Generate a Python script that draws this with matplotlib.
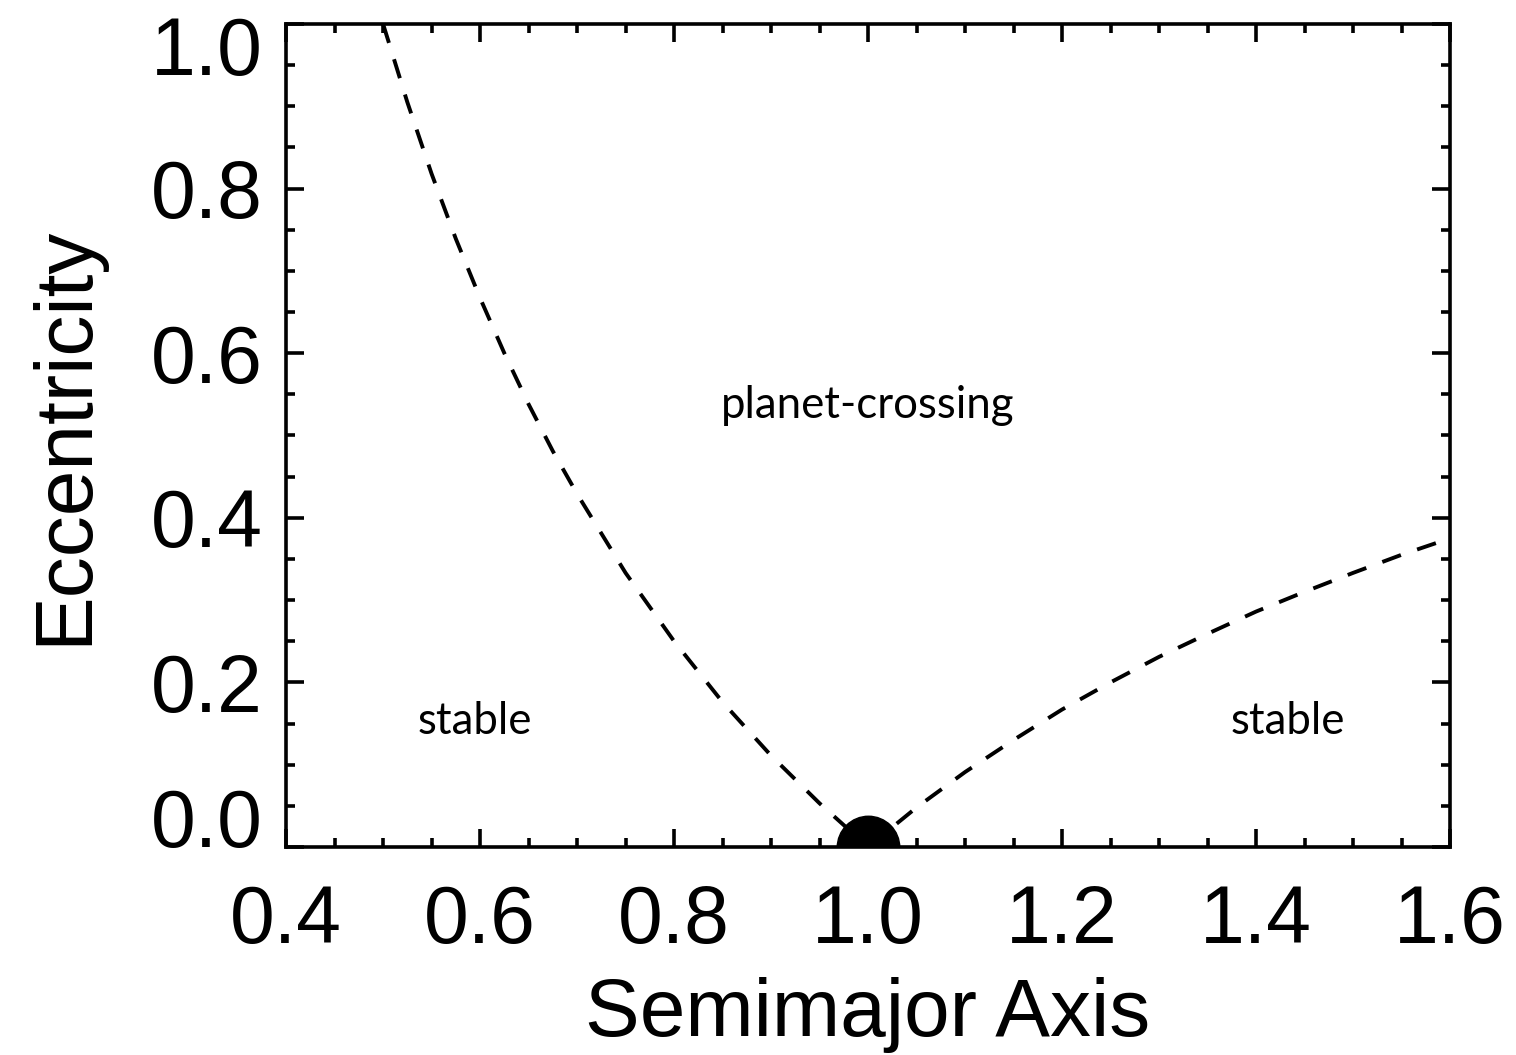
import matplotlib
matplotlib.use("Agg")
import matplotlib.pyplot as plt
from matplotlib.ticker import MultipleLocator
from matplotlib.transforms import ScaledTranslation

# boundary curves
a_inner = [0.500, 0.525, 0.550, 0.575, 0.600, 0.625, 0.650, 0.675, 0.700,
           0.750, 0.800, 0.850, 0.900, 0.950, 1.000]
e_inner = [1.000, 0.905, 0.818, 0.739, 0.667, 0.600, 0.538, 0.481, 0.429,
           0.333, 0.250, 0.176, 0.111, 0.053, 0.000]

a_outer = [1.00, 1.05, 1.10, 1.15, 1.20, 1.25, 1.30, 1.35, 1.40, 1.45, 1.50, 1.55, 1.60]
e_outer = [0.000, 0.048, 0.091, 0.130, 0.167, 0.200, 0.231, 0.259, 0.286,
           0.310, 0.333, 0.355, 0.375]

planet_a = [1.0]
planet_e = [0.0]

region_labels = ["planet-crossing", "stable", "stable"]
region_a = [1.0, 0.595, 1.433]
region_e = [0.537, 0.152, 0.152]

x_ticks = [0.4, 0.6, 0.8, 1.0, 1.2, 1.4, 1.6]
y_ticks = [0.0, 0.2, 0.4, 0.6, 0.8, 1.0]

plt.rcParams["font.family"] = ["Liberation Sans", "DejaVu Sans"]

fig = plt.figure(figsize=(15.16, 10.55), dpi=100)
ax = fig.add_axes([0.1887, 0.1972, 0.9565 - 0.1887, 0.9773 - 0.1972])

ax.plot(a_inner, e_inner, color="black", lw=2.8, dashes=(5.1, 4.4))
ax.plot(a_outer, e_outer, color="black", lw=2.8, dashes=(5.1, 4.4))
ax.plot(planet_a, planet_e, "o", color="black", markersize=45, zorder=2)

for lab, xa, ye in zip(region_labels, region_a, region_e):
    ax.text(xa, ye, lab, ha="center", va="center", fontsize=31.5,
            family=["Lato", "DejaVu Sans"])

ax.set_xlim(0.4, 1.6)
ax.set_ylim(0.0, 1.0)
ax.set_xticks(x_ticks)
ax.set_yticks(y_ticks)
ax.set_xticklabels([f"{v:.1f}" for v in x_ticks])
ax.set_yticklabels([f"{v:.1f}" for v in y_ticks])
ax.xaxis.set_minor_locator(MultipleLocator(0.05))
ax.yaxis.set_minor_locator(MultipleLocator(0.05))

ax.tick_params(which="both", direction="in", top=True, right=True, width=2.6,
               labelsize=58)
ax.tick_params(which="major", length=13)
ax.tick_params(which="minor", length=6.5)
ax.tick_params(axis="x", which="major", pad=26.5)
ax.tick_params(axis="y", which="major", pad=17)
for s in ax.spines.values():
    s.set_linewidth(2.6)

# end labels sit inside the axis range
ylabs = ax.get_yticklabels()
ylabs[0].set_va("baseline")
ylabs[-1].set_va("baseline")
ylabs[-1].set_transform(ylabs[-1].get_transform()
                        + ScaledTranslation(0, -0.51, fig.dpi_scale_trans))

ax.set_xlabel("Semimajor Axis", fontsize=59, va="top")
ax.xaxis.set_label_coords(0.5, -0.158)
ax.set_ylabel("Eccentricity", fontsize=59)
ax.yaxis.set_label_coords(-0.157, 0.5)

fig.savefig("out.png", dpi=100)
